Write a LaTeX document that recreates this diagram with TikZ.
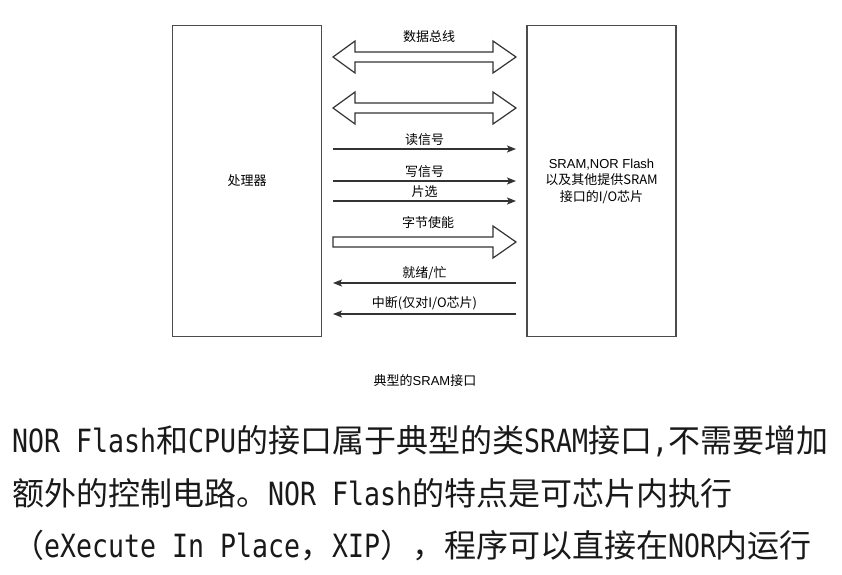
\documentclass[tikz,border=0pt]{standalone}
\usepackage{fontspec}
\setmainfont{Liberation Sans}
\newfontfamily\cjk{Noto Sans CJK SC}
\newfontfamily\mono{DejaVu Sans Mono}[FakeStretch=0.83]
\usetikzlibrary{arrows.meta}

\newcommand{\mtxt}[1]{{\mono #1}}

\tikzset{
    chip/.style={draw=black!70, line width=1.2pt, minimum width=149pt,
        minimum height=311pt, inner sep=0pt, align=center,
        font=\cjk\fontsize{13}{16.5}\selectfont},
    sig/.style={draw=black!80, line width=1.3pt,
        -{Stealth[length=9pt,width=7pt,inset=2pt]}},
    bus/.style={draw=black!80, line width=1.2pt, fill=white, line join=miter},
    lbl/.style={font=\cjk\fontsize{13}{15}\selectfont, inner sep=1pt},
    para/.style={anchor=west, inner sep=0pt, text=black!90,
        font=\cjk\fontsize{32}{36}\selectfont},
}

\begin{document}
\begin{tikzpicture}[x=1pt, y=-1pt]
    \useasboundingbox[fill=white] (0,0) rectangle (842,574);

    % processor and memory chip
    \node[chip] (cpu) at (247,181) {处理器};
    \node[chip] (mem) at (601.5,181)
        {{\rmfamily SRAM,NOR Flash}\\以及其他提供SRAM\\接口的I/O芯片};

    % data bus: two double arrows
    \foreach \y [count=\i] in {57,108} {
        \coordinate (busL\i) at (333,\y);
        \coordinate (busR\i) at (516,\y);
        \draw[bus] (busL\i) -- (355,\y-16) -- (355,\y-5) -- (493,\y-5)
            -- (493,\y-16) -- (busR\i) -- (493,\y+16) -- (493,\y+5)
            -- (355,\y+5) -- (355,\y+16) -- cycle;
    }
    \node[lbl] (buslbl) at (429,37) {数据总线};

    % control signals to the chip
    \foreach \y/\txt [count=\i] in {149/读信号, 181/写信号, 201/片选} {
        \coordinate (in\i) at (333,\y);
        \coordinate (out\i) at (516,\y);
        \draw[sig] (in\i) -- (out\i) node[lbl, midway, above=2pt] (sig\i) {\txt};
    }

    % byte enable
    \pgfmathsetmacro{\yb}{242}
    \coordinate (beL) at (333,\yb);
    \coordinate (beR) at (516,\yb);
    \draw[bus] (333,\yb-5) -- (493,\yb-5) -- (493,\yb-16) -- (beR)
        -- (493,\yb+16) -- (493,\yb+5) -- (333,\yb+5) -- cycle;
    \node[lbl] (belbl) at (428,223) {字节使能};

    % signals back to the processor
    \foreach \y/\txt [count=\i from 4] in {283/{就绪/忙}, 314/{中断(仅对I/O芯片)}} {
        \coordinate (in\i) at (333,\y);
        \coordinate (out\i) at (516,\y);
        \draw[sig] (out\i) -- (in\i) node[lbl, midway, above=2pt] (sig\i) {\txt};
    }

    % caption
    \node[lbl] (cap) at (425,381) {典型的{\rmfamily SRAM}接口};

    % note below
    \node[para] (line1) at (12,441)
        {\mtxt{NOR Flash}和\mtxt{CPU}的接口属于典型的类\mtxt{SRAM}接口\mtxt{,}不需要增加};
    \node[para] (line2) at (12,493)
        {额外的控制电路。\mtxt{NOR Flash}的特点是可芯片内执行};
    \node[para] (line3) at (12,546)
        {（\mtxt{eXecute In Place}，\mtxt{XIP}），程序可以直接在\mtxt{NOR}内运行};

\end{tikzpicture}
\end{document}
